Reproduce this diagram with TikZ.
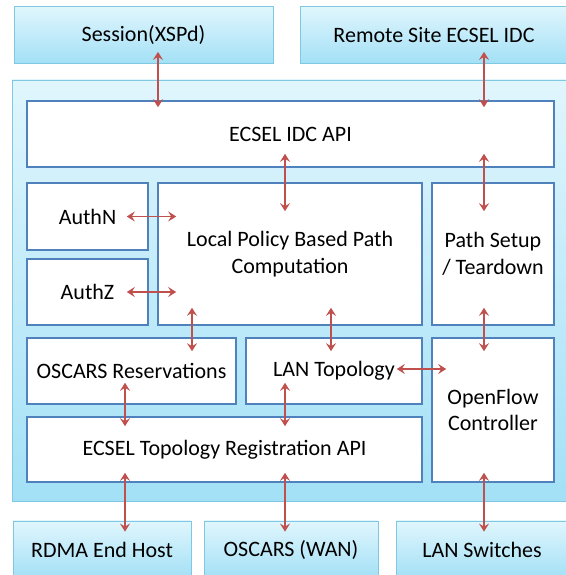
\documentclass[tikz,border=0pt]{standalone}
\usepackage{fontspec}
\setmainfont{Carlito}
\usetikzlibrary{arrows.meta}

\definecolor{boxblue}{RGB}{79,129,189}
\definecolor{arrowred}{RGB}{192,80,77}
\definecolor{skytop}{RGB}{224,246,253}
\definecolor{skybottom}{RGB}{163,224,246}
\definecolor{skyline}{RGB}{128,200,226}

\tikzstyle{arrow} = [line width=1.9pt,<->,>={Stealth[length=8pt,width=10pt,inset=3pt]},draw=arrowred]
\tikzstyle{module} = [
        rectangle,
        inner sep=0pt,
        align=center,
        draw=boxblue,
        line width=1.6pt,
        fill=white
    ]
\tikzstyle{outside} = [
        rectangle,
        inner sep=0pt,
        align=center,
        draw=skyline,
        line width=0.8pt,
        top color=skytop,
        bottom color=skybottom
    ]

\begin{document}
\begin{tikzpicture}[x=1pt, y=1pt, font=\fontsize{22}{26.5}\selectfont]
        \useasboundingbox (0,0) rectangle (565,575);

        % the ECSEL site
        \node (site) [outside, minimum width=568pt, minimum height=421pt] at (296,284.5) {};

        \node (session) [outside, minimum width=259pt, minimum height=57pt] at (143.5,540) {Session(XSPd)};
        \node (remote) [outside, minimum width=268pt, minimum height=57pt] at (434,540) {Remote Site ECSEL IDC};

        \node (api) [module, minimum width=527pt, minimum height=66pt] at (290.5,441) {ECSEL IDC API};
        \node (authn) [module, minimum width=121pt, minimum height=67pt] at (87.5,358.5) {AuthN};
        \node (authz) [module, minimum width=121pt, minimum height=66pt] at (87.5,283) {AuthZ};
        \node (policy) [module, minimum width=264pt, minimum height=142pt] at (290,321) {Local Policy Based Path\\Computation};
        \node (pathsetup) [module, minimum width=122pt, minimum height=142pt] at (493,321) {Path Setup\\/ Teardown};
        \node (oscarsres) [module, minimum width=209pt, minimum height=66pt] at (131.5,204) {OSCARS Reservations};
        \node (lantopo) [module, minimum width=176pt, minimum height=66pt] at (334,204) {LAN Topology};
        \node (openflow) [module, minimum width=122pt, minimum height=144pt] at (493,165) {OpenFlow\\Controller};
        \node (topoapi) [module, minimum width=395pt, minimum height=65pt] at (224.5,125.5) {ECSEL Topology Registration API};

        \node (rdma) [outside, minimum width=178pt, minimum height=57pt] at (102,25.5) {RDMA End Host};
        \node (oscarswan) [outside, minimum width=174pt, minimum height=57pt] at (291,25.5) {OSCARS (WAN)};
        \node (lanswitch) [outside, minimum width=172pt, minimum height=57pt] at (482,25.5) {LAN Switches};

        % top
        \draw [arrow, shorten <=-12pt, shorten >=-7pt] ([xshift=14.5pt]session.south) -- ([xshift=14.5pt]session.south |- api.north);
        \draw [arrow, shorten <=-12pt, shorten >=-7pt] ([xshift=50pt]remote.south) -- ([xshift=50pt]remote.south |- api.north);
        \draw [arrow, shorten <=-14pt, shorten >=-29pt] ([xshift=-5pt]policy.north |- api.south) -- ([xshift=-5pt]policy.north);
        \draw [arrow, shorten <=-14pt, shorten >=-29pt] ([xshift=-9pt]pathsetup.north |- api.south) -- ([xshift=-9pt]pathsetup.north);

        % middle
        \draw [arrow, shorten <=-22pt, shorten >=-19pt] (authn.east) -- (authn.east -| policy.west);
        \draw [arrow, shorten <=-22pt, shorten >=-19pt] (authz.east) -- (authz.east -| policy.west);
        \draw [arrow, shorten <=-18pt, shorten >=-14pt] ([xshift=60.5pt]oscarsres.north |- policy.south) -- ([xshift=60.5pt]oscarsres.north);
        \draw [arrow, shorten <=-18pt, shorten >=-14pt] ([xshift=-3pt]lantopo.north |- policy.south) -- ([xshift=-3pt]lantopo.north);
        \draw [arrow, shorten <=-18pt, shorten >=-14pt] ([xshift=-9pt]pathsetup.south) -- ([xshift=-9pt]pathsetup.south |- openflow.north);
        \draw [arrow, shorten <=-26pt, shorten >=-15pt] ([yshift=2pt]lantopo.east) -- ([yshift=2pt]lantopo.east -| openflow.west);
        \draw [arrow, shorten <=-22pt, shorten >=-10pt] ([xshift=-6.5pt]oscarsres.south) -- ([xshift=-6.5pt]oscarsres.south |- topoapi.north);
        \draw [arrow, shorten <=-22pt, shorten >=-10pt] ([xshift=-49pt]lantopo.south) -- ([xshift=-49pt]lantopo.south |- topoapi.north);

        % bottom
        \draw [arrow, shorten <=-10pt, shorten >=-11pt] ([xshift=23pt]rdma.north |- topoapi.south) -- ([xshift=23pt]rdma.north);
        \draw [arrow, shorten <=-10pt, shorten >=-11pt] ([xshift=-6pt]oscarswan.north |- topoapi.south) -- ([xshift=-6pt]oscarswan.north);
        \draw [arrow, shorten <=-10pt, shorten >=-11pt] ([xshift=-9pt]openflow.south) -- ([xshift=-9pt]openflow.south |- lanswitch.north);

    \end{tikzpicture}
\end{document}
